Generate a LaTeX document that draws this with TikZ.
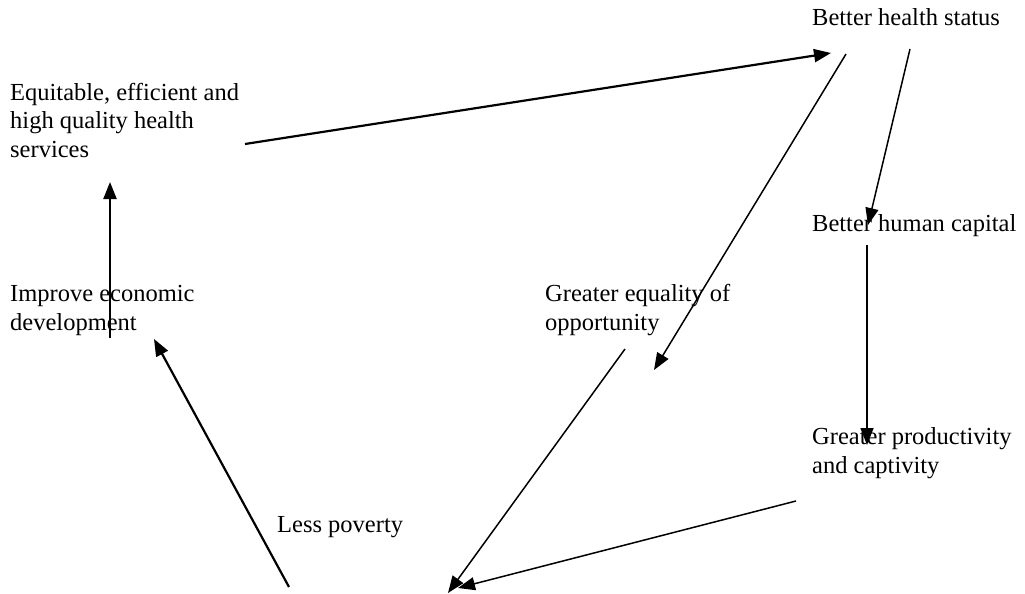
\documentclass[tikz,border=0pt]{standalone}
\usepackage{fontspec}
\setmainfont{Liberation Serif}
\usetikzlibrary{arrows.meta}
\begin{document}
\begin{tikzpicture}[x=1pt,y=-1pt,
  lbl/.style={font=\fontsize{24.5}{28.5}\selectfont, inner sep=0pt, anchor=base west, align=left},
  arr/.style={-{Triangle[length=17pt,width=13pt]}, line width=2.2pt},
  tarr/.style={-{Triangle[length=17pt,width=13pt]}, line width=1.5pt}]
\useasboundingbox[fill=white] (0,0) rectangle (1025,594);
% labels (anchor = baseline of the last line)
\node[lbl] (bhs) at (812,26) {Better health status};
\node[lbl] (ehs) at (10,157) {Equitable, efficient and\\high quality health\\services};
\node[lbl] (bhc) at (812,231) {Better human capital};
\node[lbl] (ied) at (10,330) {Improve economic\\development};
\node[lbl] (geo) at (545,330) {Greater equality of\\opportunity};
\node[lbl] (gpc) at (812,473) {Greater productivity\\and captivity};
\node[lbl] (lp) at (277,532) {Less poverty};
% connector end points
\coordinate (a1s) at (245,144); \coordinate (a1e) at (831,53);
\coordinate (a2s) at (846,54);  \coordinate (a2e) at (654,370);
\coordinate (a3s) at (910,49);  \coordinate (a3e) at (868,225);
\coordinate (a4s) at (867,245); \coordinate (a4e) at (867,445);
\coordinate (a5s) at (796,501); \coordinate (a5e) at (458,588);
\coordinate (a6s) at (625,349); \coordinate (a6e) at (448,593);
\coordinate (a7s) at (289,587); \coordinate (a7e) at (154,339);
\coordinate (a8s) at (110,338); \coordinate (a8e) at (110,182);
% connectors
\draw[arr] (a1s) -- (a1e);
\draw[tarr] (a2s) -- (a2e);
\draw[tarr] (a3s) -- (a3e);
\draw[tarr] (a4s) -- (a4e);
\draw[tarr] (a5s) -- (a5e);
\draw[tarr] (a6s) -- (a6e);
\draw[arr] (a7s) -- (a7e);
\draw[arr] (a8s) -- (a8e);
\end{tikzpicture}
\end{document}
